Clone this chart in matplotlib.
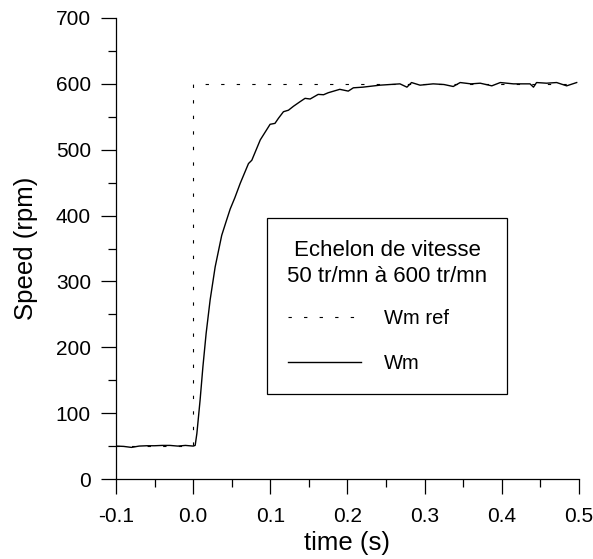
import matplotlib
matplotlib.use("Agg")
import matplotlib.pyplot as plt
from matplotlib.ticker import MultipleLocator

plt.rcParams['font.family'] = ['Liberation Sans', 'DejaVu Sans']

# Consigne de vitesse (echelon 50 -> 600 tr/mn a t = 0)
t_ref = [-0.1, 0.0, 0.0, 0.5]
w_ref = [50, 50, 600, 600]

t_wm = [-0.1, -0.09, -0.08, -0.07, -0.06, -0.05, -0.04, -0.03, -0.02, -0.01,
        0.0, 0.0026, 0.0048, 0.009, 0.0126, 0.0168, 0.022, 0.0285, 0.037,
        0.043, 0.048, 0.054, 0.061, 0.0717, 0.076, 0.087, 0.0997, 0.106, 0.1105,
        0.117, 0.1235, 0.13, 0.1386, 0.145, 0.1516, 0.162, 0.169, 0.175,
        0.19, 0.201, 0.2076, 0.22, 0.242, 0.255, 0.268, 0.277, 0.283, 0.294,
        0.311, 0.325, 0.337, 0.346, 0.36, 0.372, 0.387, 0.398, 0.415, 0.4365,
        0.441, 0.445, 0.458, 0.471, 0.484, 0.497]
w_wm = [50, 49.5, 48, 50, 50.5, 50.5, 51, 51, 50, 51,
        50, 51, 69, 120, 170, 221, 272, 322, 370,
        392, 410, 427, 449, 479, 484, 515, 538.6, 540, 547.7,
        557.7, 560, 566, 573, 578, 577, 584, 583.5, 586.5,
        591.7, 589, 594, 595, 598, 599, 600, 595, 602, 598,
        600, 599, 596, 602, 600, 601, 597, 602, 600, 600,
        595, 602, 601, 602, 597, 602]

fig = plt.figure(figsize=(5.93, 5.59), dpi=100)
ax = fig.add_axes([0.1956, 0.1431, 0.7808, 0.8247])

ax.plot(t_ref, w_ref, color='black', lw=0.8, linestyle=(0, (3, 11)), label='Wm ref')
ax.plot(t_wm, w_wm, color='black', lw=1.0, label='Wm')

ax.set_xlim(-0.1, 0.5)
ax.set_ylim(0, 700)
ax.xaxis.set_major_locator(MultipleLocator(0.1))
ax.xaxis.set_minor_locator(MultipleLocator(0.05))
ax.yaxis.set_major_locator(MultipleLocator(100))
ax.yaxis.set_minor_locator(MultipleLocator(50))
ax.xaxis.set_major_formatter(matplotlib.ticker.FormatStrFormatter('%.1f'))

for side in ['top', 'right']:
    ax.spines[side].set_visible(False)
for side in ['left', 'bottom']:
    ax.spines[side].set_linewidth(0.9)
ax.tick_params(which='major', length=11, width=0.9, labelsize=15)
ax.tick_params(axis='x', which='major', pad=9)
ax.tick_params(axis='y', which='major', pad=7)
ax.tick_params(which='minor', length=5.5, width=0.9)

ax.set_xlabel('time (s)', fontsize=18.5, labelpad=4)
ax.set_ylabel('Speed (rpm)', fontsize=18.5, labelpad=13)

leg = ax.legend(title='Echelon de vitesse\n50 tr/mn à 600 tr/mn',
                loc='center', bbox_to_anchor=(0.326, 0.184, 0.5185, 0.382),
                mode='expand', borderaxespad=0, fontsize=14.5, title_fontsize=16,
                handlelength=3.6, handletextpad=1.15, labelspacing=1.25,
                borderpad=1.05, fancybox=False, edgecolor='black', framealpha=1)
leg.get_frame().set_linewidth(0.9)
leg.get_title().set_multialignment('center')
leg.get_title().set_linespacing(1.35)
leg._legend_box.sep = 16

fig.savefig('out.png', dpi=100)
